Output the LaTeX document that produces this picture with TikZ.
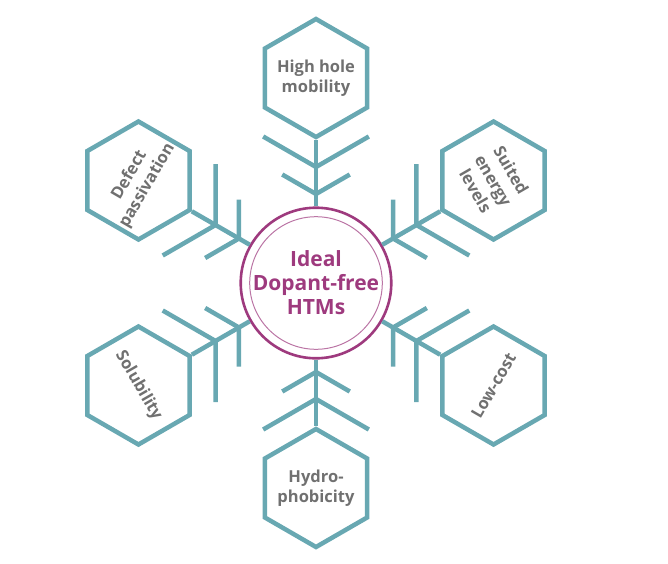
\documentclass[tikz,border=0pt]{standalone}
\usepackage{fontspec}
\setmainfont{Open Sans}
\usetikzlibrary{shapes.geometric, calc}
\definecolor{flaketeal}{RGB}{104,168,178}
\definecolor{hubpurple}{RGB}{158,58,126}
\definecolor{labelgray}{RGB}{112,112,112}

\begin{document}
\begin{tikzpicture}[
	x=1pt, y=1pt,
	every node/.style={align=center, font=\bfseries},
	hub/.style={circle, draw=hubpurple, line width=2.6pt, minimum size=141pt, text=hubpurple, font=\bfseries\fontsize{21}{24}\selectfont},
	cell/.style={regular polygon, regular polygon sides=6, shape border rotate=30, draw=flaketeal, line width=4.5pt, minimum size=118pt, inner sep=0pt},
	celltext/.style={text=labelgray, inner sep=0pt, font=\bfseries\fontsize{16.5}{20.5}\selectfont},
	twig/.style={draw=flaketeal, line width=4.5pt}
	]
	\useasboundingbox (-316,-280) rectangle (352,283);

	\node[hub] (hub) at (0,0) {Ideal\\Dopant-free\\HTMs};
	\draw[hubpurple!70, line width=1pt] (hub.center) circle (66.3);

	\foreach \ang/\rot/\name/\txt in {
		90/0/mobility/{High hole\\mobility},
		30/-60/levels/{Suited\\energy\\levels},
		-30/60/cost/{Low-cost},
		-90/0/hydro/{Hydro-\\phobicity},
		210/-60/solub/{Solubility},
		150/60/defect/{Defect\\passivation}}
	{
		\node[cell, label={[celltext, rotate=\rot]center:\txt}] (\name) at (\ang:205) {};
		\draw[twig] (hub) -- (\name);
		\coordinate (\name-in) at (\ang:89);
		\coordinate (\name-out) at (\ang:116);
		\draw[twig] (\name-in) -- ++(\ang+60:39) (\name-in) -- ++(\ang-60:39);
		\draw[twig] (\name-out) -- ++(\ang+60:61) (\name-out) -- ++(\ang-60:61);
	}
\end{tikzpicture}
\end{document}
